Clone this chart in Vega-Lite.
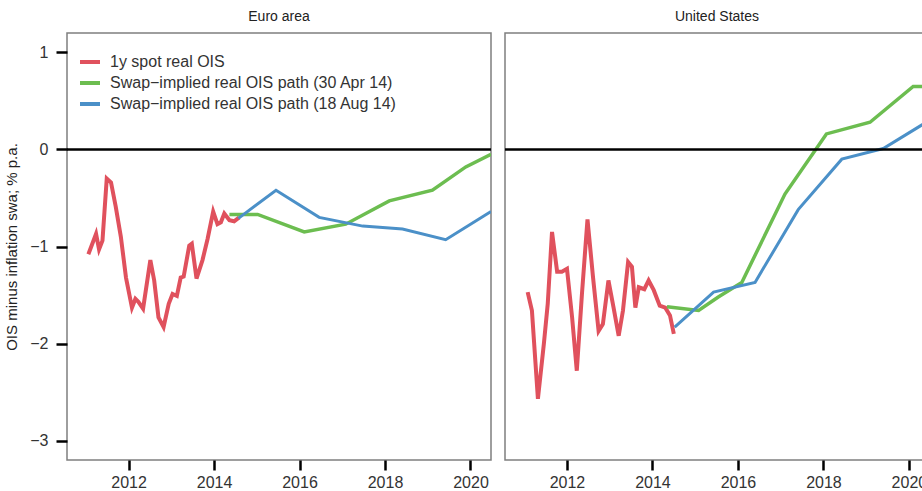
{
  "$schema": "https://vega.github.io/schema/vega-lite/v6.json",
  "padding": {"left": 4, "top": 9, "right": 0, "bottom": 0},
  "background": "white",
  "config": {
    "font": "Liberation Sans",
    "view": {"stroke": "#7f7f7f", "strokeWidth": 1.5},
    "axis": {"grid": false, "domain": false, "ticks": true, "tickColor": "black", "tickWidth": 2.5, "tickSize": 10, "labelFontSize": 16, "labelColor": "#333333", "titleFontWeight": "normal", "titleColor": "#222222"},
    "title": {"fontSize": 14, "fontWeight": "normal", "color": "#222222", "offset": 9}
  },
  "datasets": {
    "d": [
      {"region": "Euro area", "series": "1y spot real OIS", "year": 2011.06, "value": -1.08},
      {"region": "Euro area", "series": "1y spot real OIS", "year": 2011.24, "value": -0.87},
      {"region": "Euro area", "series": "1y spot real OIS", "year": 2011.31, "value": -1.03},
      {"region": "Euro area", "series": "1y spot real OIS", "year": 2011.39, "value": -0.94},
      {"region": "Euro area", "series": "1y spot real OIS", "year": 2011.49, "value": -0.30},
      {"region": "Euro area", "series": "1y spot real OIS", "year": 2011.59, "value": -0.34},
      {"region": "Euro area", "series": "1y spot real OIS", "year": 2011.70, "value": -0.59},
      {"region": "Euro area", "series": "1y spot real OIS", "year": 2011.82, "value": -0.90},
      {"region": "Euro area", "series": "1y spot real OIS", "year": 2011.94, "value": -1.32},
      {"region": "Euro area", "series": "1y spot real OIS", "year": 2012.08, "value": -1.63},
      {"region": "Euro area", "series": "1y spot real OIS", "year": 2012.16, "value": -1.54},
      {"region": "Euro area", "series": "1y spot real OIS", "year": 2012.23, "value": -1.57},
      {"region": "Euro area", "series": "1y spot real OIS", "year": 2012.34, "value": -1.64},
      {"region": "Euro area", "series": "1y spot real OIS", "year": 2012.51, "value": -1.14},
      {"region": "Euro area", "series": "1y spot real OIS", "year": 2012.60, "value": -1.35},
      {"region": "Euro area", "series": "1y spot real OIS", "year": 2012.70, "value": -1.73},
      {"region": "Euro area", "series": "1y spot real OIS", "year": 2012.82, "value": -1.83},
      {"region": "Euro area", "series": "1y spot real OIS", "year": 2012.94, "value": -1.59},
      {"region": "Euro area", "series": "1y spot real OIS", "year": 2013.03, "value": -1.49},
      {"region": "Euro area", "series": "1y spot real OIS", "year": 2013.13, "value": -1.51},
      {"region": "Euro area", "series": "1y spot real OIS", "year": 2013.22, "value": -1.32},
      {"region": "Euro area", "series": "1y spot real OIS", "year": 2013.29, "value": -1.31},
      {"region": "Euro area", "series": "1y spot real OIS", "year": 2013.42, "value": -0.99},
      {"region": "Euro area", "series": "1y spot real OIS", "year": 2013.48, "value": -0.97},
      {"region": "Euro area", "series": "1y spot real OIS", "year": 2013.59, "value": -1.33},
      {"region": "Euro area", "series": "1y spot real OIS", "year": 2013.73, "value": -1.14},
      {"region": "Euro area", "series": "1y spot real OIS", "year": 2013.85, "value": -0.92},
      {"region": "Euro area", "series": "1y spot real OIS", "year": 2013.98, "value": -0.64},
      {"region": "Euro area", "series": "1y spot real OIS", "year": 2014.08, "value": -0.77},
      {"region": "Euro area", "series": "1y spot real OIS", "year": 2014.16, "value": -0.75},
      {"region": "Euro area", "series": "1y spot real OIS", "year": 2014.24, "value": -0.66},
      {"region": "Euro area", "series": "1y spot real OIS", "year": 2014.36, "value": -0.73},
      {"region": "Euro area", "series": "1y spot real OIS", "year": 2014.47, "value": -0.74},
      {"region": "Euro area", "series": "1y spot real OIS", "year": 2014.59, "value": -0.70},
      {"region": "Euro area", "series": "Swap−implied real OIS path (30 Apr 14)", "year": 2014.36, "value": -0.67},
      {"region": "Euro area", "series": "Swap−implied real OIS path (30 Apr 14)", "year": 2015.02, "value": -0.67},
      {"region": "Euro area", "series": "Swap−implied real OIS path (30 Apr 14)", "year": 2016.11, "value": -0.85},
      {"region": "Euro area", "series": "Swap−implied real OIS path (30 Apr 14)", "year": 2017.08, "value": -0.77},
      {"region": "Euro area", "series": "Swap−implied real OIS path (30 Apr 14)", "year": 2018.10, "value": -0.53},
      {"region": "Euro area", "series": "Swap−implied real OIS path (30 Apr 14)", "year": 2019.11, "value": -0.42},
      {"region": "Euro area", "series": "Swap−implied real OIS path (30 Apr 14)", "year": 2019.89, "value": -0.18},
      {"region": "Euro area", "series": "Swap−implied real OIS path (30 Apr 14)", "year": 2020.48, "value": -0.05},
      {"region": "Euro area", "series": "Swap−implied real OIS path (18 Aug 14)", "year": 2014.57, "value": -0.71},
      {"region": "Euro area", "series": "Swap−implied real OIS path (18 Aug 14)", "year": 2015.45, "value": -0.42},
      {"region": "Euro area", "series": "Swap−implied real OIS path (18 Aug 14)", "year": 2016.46, "value": -0.70},
      {"region": "Euro area", "series": "Swap−implied real OIS path (18 Aug 14)", "year": 2017.48, "value": -0.79},
      {"region": "Euro area", "series": "Swap−implied real OIS path (18 Aug 14)", "year": 2018.41, "value": -0.82},
      {"region": "Euro area", "series": "Swap−implied real OIS path (18 Aug 14)", "year": 2019.42, "value": -0.93},
      {"region": "Euro area", "series": "Swap−implied real OIS path (18 Aug 14)", "year": 2020.48, "value": -0.64},
      {"region": "United States", "series": "1y spot real OIS", "year": 2011.08, "value": -1.47},
      {"region": "United States", "series": "1y spot real OIS", "year": 2011.18, "value": -1.66},
      {"region": "United States", "series": "1y spot real OIS", "year": 2011.32, "value": -2.57},
      {"region": "United States", "series": "1y spot real OIS", "year": 2011.46, "value": -2.00},
      {"region": "United States", "series": "1y spot real OIS", "year": 2011.55, "value": -1.59},
      {"region": "United States", "series": "1y spot real OIS", "year": 2011.65, "value": -0.85},
      {"region": "United States", "series": "1y spot real OIS", "year": 2011.77, "value": -1.26},
      {"region": "United States", "series": "1y spot real OIS", "year": 2011.88, "value": -1.26},
      {"region": "United States", "series": "1y spot real OIS", "year": 2012.00, "value": -1.23},
      {"region": "United States", "series": "1y spot real OIS", "year": 2012.12, "value": -1.73},
      {"region": "United States", "series": "1y spot real OIS", "year": 2012.23, "value": -2.28},
      {"region": "United States", "series": "1y spot real OIS", "year": 2012.35, "value": -1.49},
      {"region": "United States", "series": "1y spot real OIS", "year": 2012.48, "value": -0.72},
      {"region": "United States", "series": "1y spot real OIS", "year": 2012.61, "value": -1.32},
      {"region": "United States", "series": "1y spot real OIS", "year": 2012.74, "value": -1.87},
      {"region": "United States", "series": "1y spot real OIS", "year": 2012.84, "value": -1.80},
      {"region": "United States", "series": "1y spot real OIS", "year": 2012.97, "value": -1.35},
      {"region": "United States", "series": "1y spot real OIS", "year": 2013.09, "value": -1.63},
      {"region": "United States", "series": "1y spot real OIS", "year": 2013.21, "value": -1.92},
      {"region": "United States", "series": "1y spot real OIS", "year": 2013.31, "value": -1.66},
      {"region": "United States", "series": "1y spot real OIS", "year": 2013.43, "value": -1.16},
      {"region": "United States", "series": "1y spot real OIS", "year": 2013.52, "value": -1.21},
      {"region": "United States", "series": "1y spot real OIS", "year": 2013.60, "value": -1.63},
      {"region": "United States", "series": "1y spot real OIS", "year": 2013.68, "value": -1.42},
      {"region": "United States", "series": "1y spot real OIS", "year": 2013.81, "value": -1.44},
      {"region": "United States", "series": "1y spot real OIS", "year": 2013.91, "value": -1.35},
      {"region": "United States", "series": "1y spot real OIS", "year": 2014.03, "value": -1.45},
      {"region": "United States", "series": "1y spot real OIS", "year": 2014.17, "value": -1.61},
      {"region": "United States", "series": "1y spot real OIS", "year": 2014.30, "value": -1.63},
      {"region": "United States", "series": "1y spot real OIS", "year": 2014.41, "value": -1.71},
      {"region": "United States", "series": "1y spot real OIS", "year": 2014.50, "value": -1.90},
      {"region": "United States", "series": "Swap−implied real OIS path (30 Apr 14)", "year": 2014.34, "value": -1.62},
      {"region": "United States", "series": "Swap−implied real OIS path (30 Apr 14)", "year": 2015.08, "value": -1.66},
      {"region": "United States", "series": "Swap−implied real OIS path (30 Apr 14)", "year": 2015.54, "value": -1.52},
      {"region": "United States", "series": "Swap−implied real OIS path (30 Apr 14)", "year": 2016.09, "value": -1.37},
      {"region": "United States", "series": "Swap−implied real OIS path (30 Apr 14)", "year": 2017.10, "value": -0.46},
      {"region": "United States", "series": "Swap−implied real OIS path (30 Apr 14)", "year": 2018.07, "value": 0.16},
      {"region": "United States", "series": "Swap−implied real OIS path (30 Apr 14)", "year": 2019.09, "value": 0.28},
      {"region": "United States", "series": "Swap−implied real OIS path (30 Apr 14)", "year": 2020.10, "value": 0.65},
      {"region": "United States", "series": "Swap−implied real OIS path (30 Apr 14)", "year": 2020.48, "value": 0.65},
      {"region": "United States", "series": "Swap−implied real OIS path (18 Aug 14)", "year": 2014.52, "value": -1.83},
      {"region": "United States", "series": "Swap−implied real OIS path (18 Aug 14)", "year": 2015.43, "value": -1.47},
      {"region": "United States", "series": "Swap−implied real OIS path (18 Aug 14)", "year": 2016.40, "value": -1.37},
      {"region": "United States", "series": "Swap−implied real OIS path (18 Aug 14)", "year": 2017.41, "value": -0.62},
      {"region": "United States", "series": "Swap−implied real OIS path (18 Aug 14)", "year": 2018.43, "value": -0.10},
      {"region": "United States", "series": "Swap−implied real OIS path (18 Aug 14)", "year": 2019.40, "value": 0.01},
      {"region": "United States", "series": "Swap−implied real OIS path (18 Aug 14)", "year": 2020.48, "value": 0.30}
    ],
    "zero": [{"level": 0}]
  },
  "spacing": 10,
  "resolve": {"legend": {"color": "independent"}},
  "hconcat": [
    {
      "width": 424,
      "height": 427,
      "title": "Euro area",
      "layer": [
        {
          "data": {"name": "d"},
          "transform": [{"filter": "datum.region === 'Euro area'"}],
          "mark": {"type": "line", "clip": true},
          "encoding": {
            "x": {"field": "year", "type": "quantitative", "scale": {"domain": [2010.56, 2020.48], "nice": false, "zero": false}, "axis": {"values": [2012, 2014, 2016, 2018, 2020], "format": "d", "title": null, "labelPadding": 4}},
            "y": {"field": "value", "type": "quantitative", "scale": {"domain": [-3.2, 1.2], "nice": false, "zero": false}, "axis": {"title": "OIS minus inflation swa; % p.a.", "values": [-3, -2, -1, 0, 1], "format": "d", "tickSize": 11, "labelPadding": 8, "titleFontSize": 15, "titlePadding": 10}},
            "color": {"field": "series", "type": "nominal", "scale": {"domain": ["1y spot real OIS", "Swap−implied real OIS path (30 Apr 14)", "Swap−implied real OIS path (18 Aug 14)"], "range": ["#E0515D", "#6CBD50", "#4B90C8"]}, "legend": {"orient": "none", "legendX": 11, "legendY": 17, "title": null, "symbolType": "stroke", "symbolStrokeWidth": 4, "symbolSize": 400, "labelFontSize": 16, "labelColor": "#333333", "labelLimit": 500, "labelOffset": 8, "rowPadding": 1}},
            "strokeWidth": {"field": "series", "type": "nominal", "scale": {"domain": ["1y spot real OIS", "Swap−implied real OIS path (30 Apr 14)", "Swap−implied real OIS path (18 Aug 14)"], "range": [4, 3, 3]}, "legend": null}
          }
        },
        {
          "data": {"name": "zero"},
          "mark": {"type": "rule", "color": "black", "strokeWidth": 2.5},
          "encoding": {
            "y": {"field": "level", "type": "quantitative", "axis": {"title": "OIS minus inflation swa; % p.a.", "format": "d"}}
          }
        }
      ]
    },
    {
      "width": 424,
      "height": 427,
      "title": "United States",
      "layer": [
        {
          "data": {"name": "d"},
          "transform": [{"filter": "datum.region === 'United States'"}],
          "mark": {"type": "line", "clip": true},
          "encoding": {
            "x": {"field": "year", "type": "quantitative", "scale": {"domain": [2010.55, 2020.47], "nice": false, "zero": false}, "axis": {"values": [2012, 2014, 2016, 2018, 2020], "format": "d", "title": null, "labelPadding": 4}},
            "y": {"field": "value", "type": "quantitative", "scale": {"domain": [-3.2, 1.2], "nice": false, "zero": false}, "axis": null},
            "color": {"field": "series", "type": "nominal", "scale": {"domain": ["1y spot real OIS", "Swap−implied real OIS path (30 Apr 14)", "Swap−implied real OIS path (18 Aug 14)"], "range": ["#E0515D", "#6CBD50", "#4B90C8"]}, "legend": null},
            "strokeWidth": {"field": "series", "type": "nominal", "scale": {"domain": ["1y spot real OIS", "Swap−implied real OIS path (30 Apr 14)", "Swap−implied real OIS path (18 Aug 14)"], "range": [4, 3, 3]}, "legend": null}
          }
        },
        {
          "data": {"name": "zero"},
          "mark": {"type": "rule", "color": "black", "strokeWidth": 2.5},
          "encoding": {
            "y": {"field": "level", "type": "quantitative", "axis": null}
          }
        }
      ]
    }
  ]
}
